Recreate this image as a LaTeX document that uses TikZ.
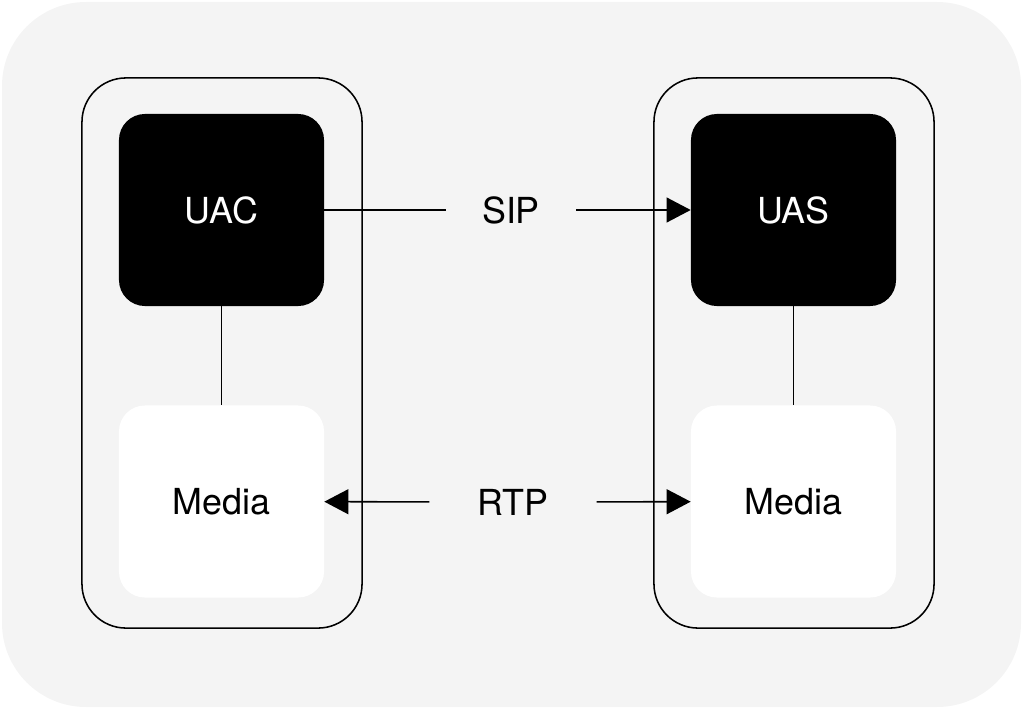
\documentclass[tikz,border=0pt]{standalone}
\usepackage{fontspec}
\setmainfont{TeX Gyre Heros}
\usetikzlibrary{arrows.meta, positioning}
\definecolor{bggray}{HTML}{F4F4F4}

\tikzset{
    host/.style={draw, line width=1.1pt, rounded corners=1.1cm,
        minimum width=7cm, minimum height=13.75cm},
    agent/.style={fill=black, text=white, rounded corners=0.65cm,
        minimum width=5.125cm, minimum height=4.8cm},
    media/.style={fill=white, rounded corners=0.65cm,
        minimum width=5.125cm, minimum height=4.8cm},
    proto/.style={inner ysep=2pt},
    link/.style={line width=1.1pt},
    tip/.style={-{Triangle[length=0.6cm, width=0.62cm]}}
}

\begin{document}
\begin{tikzpicture}[x=0.025cm, y=-0.025cm, font=\fontsize{25.5}{30}\selectfont]
        \useasboundingbox (0,0) rectangle (1023,709);
        \fill[bggray, rounded corners=2.1cm] (2,2) rectangle (1021,707);

        % the two hosts
        \node[host] (lhost) at (222,353) {};
        \node[host] (rhost) at (794,353) {};

        \node[agent] (uac) at (221.5,210) {UAC};
        \node[media] (lmedia) at (221.5,501.5) {Media};
        \node[agent] (uas) at (793.5,210) {UAS};
        \node[media] (rmedia) at (793.5,501.5) {Media};

        \draw[link] (uac) -- (lmedia);
        \draw[link] (uas) -- (rmedia);

        % signalling and media paths
        \node[proto, inner xsep=0.9cm] (sip) at (511,210) {SIP};
        \node[proto, inner xsep=1.2cm] (rtp) at (513,502) {RTP};

        \draw[link] (uac) -- (sip);
        \draw[link, tip] (sip) -- (uas);
        \draw[link, tip] (rtp) -- (lmedia);
        \draw[link, tip] (rtp) -- (rmedia);
    \end{tikzpicture}
\end{document}
